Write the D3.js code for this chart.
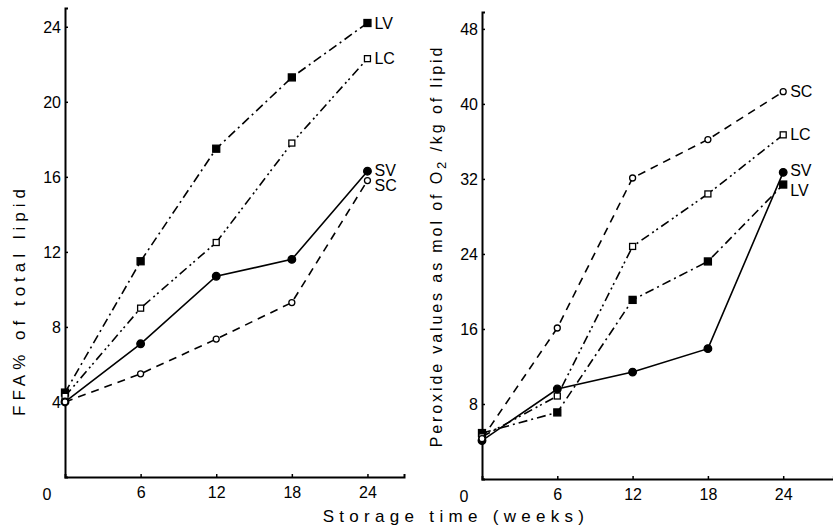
<!DOCTYPE html>
<html>
<head>
<meta charset="utf-8">
<script src="https://cdnjs.cloudflare.com/ajax/libs/d3/7.8.5/d3.min.js"></script>
<style>
body { margin: 0; background: #fff; }
svg { display: block; }
text { font-family: "Liberation Sans", Arial, sans-serif; fill: #000; }
</style>
</head>
<body>
<svg width="833" height="528"></svg>
<script>
// storage time in weeks
var weeks = [0, 6, 12, 18, 24]
var series = ['LV', 'LC', 'SV', 'SC']

// FFA % of total lipid
var ffaLV = [4.5, 11.5, 17.5, 21.3, 24.2]
var ffaLC = [4.3, 9.0, 12.5, 17.8, 22.3]
var ffaSV = [4.0, 7.1, 10.7, 11.6, 16.3]
var ffaSC = [4.0, 5.5, 7.35, 9.3, 15.8]

// peroxide values, mol O2 / kg lipid
var perLV = [4.9, 7.1, 19.1, 23.2, 31.4]
var perLC = [4.5, 8.85, 24.8, 30.4, 36.7]
var perSV = [4.1, 9.6, 11.4, 13.9, 32.7]
var perSC = [4.3, 16.1, 32.1, 36.2, 41.3]

var ffaTicks = [4, 8, 12, 16, 20, 24]
var perTicks = [8, 16, 24, 32, 40, 48]
var weekTicks = [6, 12, 18, 24]

var style = {
  LV: {dash: '9,4,2,4', marker: 'square', fill: true},
  LC: {dash: '9,4,2,3,2,4', marker: 'square', fill: false},
  SV: {dash: null, marker: 'circle', fill: true},
  SC: {dash: '8,6', marker: 'circle', fill: false}
}

var svg = d3.select('svg')

var drawPanel = function(cfg){
  var x = d3.scaleLinear().domain(cfg.xdom).range(cfg.xr)
  var y = d3.scaleLinear().domain(cfg.ydom).range(cfg.yr)
  var g = svg.append('g')

  var xa = g.append('g').attr('transform', 'translate(0,' + cfg.yr[0] + ')')
    .call(d3.axisBottom(x).tickValues(weekTicks).tickSize(-3).tickPadding(10).tickFormat(d3.format('d')))
  var ya = g.append('g').attr('transform', 'translate(' + cfg.xr[0] + ',0)')
    .call(d3.axisLeft(y).tickValues(cfg.ticks).tickSize(-3).tickPadding(4).tickFormat(d3.format('d')))
  g.selectAll('.domain').attr('stroke', '#000').attr('stroke-width', 2)
  g.selectAll('.tick line').attr('stroke', '#000').attr('stroke-width', 1.5)
  g.selectAll('.tick text').style('font-size', '16px').attr('fill', '#000')
  ya.selectAll('.tick text').attr('dy', '0.35em')

  g.append('text').attr('x', x(0) - 18).attr('y', cfg.yr[0] + 23)
    .style('font-size', '16px').attr('text-anchor', 'middle').text('0')

  var line = d3.line().x(function(d, i){ return x(weeks[i]) }).y(function(d){ return y(d) })

  series.forEach(function(s){
    var vals = cfg.data[s]
    var st = style[s]
    g.append('path').attr('d', line(vals)).attr('fill', 'none')
      .attr('stroke', '#000').attr('stroke-width', 1.6)
      .attr('stroke-dasharray', st.dash)
    vals.forEach(function(v, i){
      var cx = x(weeks[i]), cy = y(v)
      if (st.marker == 'square') {
        var sz = st.fill ? 7 : 6
        g.append('rect').attr('x', cx - sz/2).attr('y', cy - sz/2).attr('width', sz).attr('height', sz)
          .attr('fill', st.fill ? '#000' : '#fff').attr('stroke', '#000').attr('stroke-width', 1.3)
      } else {
        g.append('circle').attr('cx', cx).attr('cy', cy).attr('r', st.fill ? 3.8 : 3)
          .attr('fill', st.fill ? '#000' : '#fff').attr('stroke', '#000').attr('stroke-width', 1.3)
      }
    })
    var last = vals[vals.length - 1]
    g.append('text').attr('x', x(24) + 7).attr('y', y(last) + cfg.labelDy[s])
      .attr('dy', '0.35em').style('font-size', '16px').text(s)
  })
}

drawPanel({
  xdom: [0, 26.9], xr: [65, 404],
  ydom: [0, 25], yr: [477, 8],
  ticks: ffaTicks,
  data: {LV: ffaLV, LC: ffaLC, SV: ffaSV, SC: ffaSC},
  labelDy: {LV: 0, LC: 0, SV: -1, SC: 5}
})

drawPanel({
  xdom: [0, 28], xr: [482, 833.4],
  ydom: [0, 49.8], yr: [479, 12],
  ticks: perTicks,
  data: {LV: perLV, LC: perLC, SV: perSV, SC: perSC},
  labelDy: {LV: 6, LC: 0, SV: -2, SC: 0}
})

// axis titles
svg.append('text').attr('transform', 'translate(25,300) rotate(-90)')
  .attr('text-anchor', 'middle').style('font-size', '17px').style('letter-spacing', '5px')
  .text('FFA% of total lipid')

var pt = svg.append('text').attr('transform', 'translate(442,246) rotate(-90)')
  .attr('text-anchor', 'middle').style('font-size', '16px').style('letter-spacing', '2.9px')
pt.append('tspan').text('Peroxide values as mol of O')
pt.append('tspan').attr('baseline-shift', '-30%').style('font-size', '13px').text('2')
pt.append('tspan').text(' /kg of lipid')

svg.append('text').attr('x', 456).attr('y', 522)
  .attr('text-anchor', 'middle').style('font-size', '17px').style('letter-spacing', '5.3px')
  .text('Storage time (weeks)')
</script>
</body>
</html>
